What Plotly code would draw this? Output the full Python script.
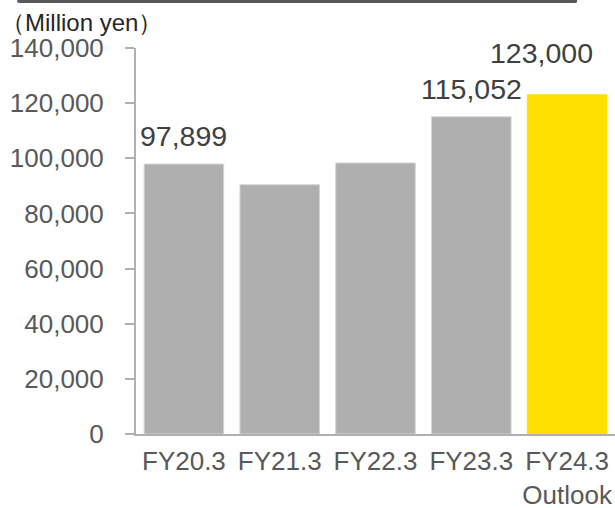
import plotly.graph_objects as go

categories = ["FY20.3", "FY21.3", "FY22.3", "FY23.3", "FY24.3<br>Outlook"]
values = [97899, 90400, 98300, 115052, 123000]
bar_colors = ["#AFAFAF", "#AFAFAF", "#AFAFAF", "#AFAFAF", "#FFE000"]
line_colors = ["#D4D4D4", "#D4D4D4", "#D4D4D4", "#D4D4D4", "#FFE000"]
label_text = ["97,899", "", "", "115,052", "123,000"]
label_xshift = [0, 0, 0, 0, -26]
label_yshift = [10, 0, 0, 10, 24]
y_ticks = [0, 20000, 40000, 60000, 80000, 100000, 120000, 140000]

FONT = "Liberation Sans, Arial, sans-serif"

fig = go.Figure(
    go.Bar(
        x=categories,
        y=values,
        marker=dict(color=bar_colors, line=dict(color=line_colors, width=1)),
        width=0.83,
        hoverinfo="skip",
    )
)

annotations = []
for c, v, t, dx, dy in zip(categories, values, label_text, label_xshift, label_yshift):
    if t:
        annotations.append(dict(
            x=c, y=v, text=t, showarrow=False, xanchor="center", yanchor="bottom",
            xshift=dx, yshift=dy, font=dict(family=FONT, size=28.5, color="#404040"),
        ))

annotations.append(dict(
    xref="paper", yref="paper", x=-0.286, y=1.067, xanchor="left", yanchor="middle",
    text="（Million yen）", showarrow=False,
    font=dict(family=FONT, size=24, color="#262626"),
))

fig.update_layout(
    width=615, height=508,
    margin=dict(l=136, r=0, t=48, b=74),
    paper_bgcolor="white", plot_bgcolor="white",
    showlegend=False,
    annotations=annotations,
    shapes=[dict(
        type="path", xref="paper", yref="paper",
        path="M -0.248,1.13 L 0.921,1.13 L 0.921,1.1205 Q 0.921,1.1164 0.913,1.1164 "
             "L -0.240,1.1164 Q -0.248,1.1164 -0.248,1.1205 Z",
        fillcolor="#595959", line=dict(width=0), layer="above",
    )],
    xaxis=dict(
        showline=True, linecolor="#B0B0B0", linewidth=2,
        ticks="", ticklabelstandoff=3, automargin=False,
        tickfont=dict(family=FONT, size=26, color="#595959"),
        showgrid=False, fixedrange=True,
    ),
    yaxis=dict(
        range=[0, 140000], tickvals=y_ticks, tickformat=",",
        showline=True, linecolor="#B0B0B0", linewidth=2,
        ticks="outside", ticklen=9, tickwidth=2, tickcolor="#B0B0B0",
        ticklabelstandoff=16, automargin=False,
        tickfont=dict(family=FONT, size=26, color="#595959"),
        showgrid=False, zeroline=False, fixedrange=True,
    ),
)

fig.write_html(
    "out.html",
    config={"displayModeBar": False, "staticPlot": True},
    post_script="document.body.style.margin='0';document.body.style.overflow='hidden';",
)
